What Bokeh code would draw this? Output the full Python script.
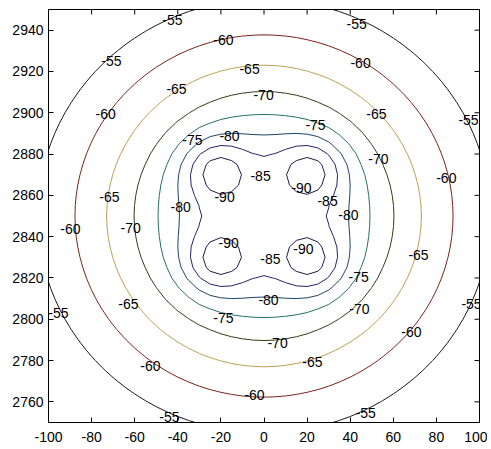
import numpy as np
from bokeh.plotting import figure
from bokeh.models import FixedTicker
from bokeh.core.properties import value
from bokeh.embed import file_html
from bokeh.resources import INLINE

# ---- data ----
x_grid = np.linspace(-100, 100, 41)
y_grid = np.linspace(2750, 2950, 41)
levels = [-90, -85, -80, -75, -70, -65, -60, -55]
level_colors = ["#1c1c4c", "#202468", "#1c4466", "#24706a", "#343c18", "#c0a050", "#7a2418", "#241414"]

# field model: log rise with distance from the centre, flat core, four local minima
centre_x = 0.0
centre_y = 2850.0
dip_x = [-23.0, 23.0, -23.0, 23.0]
dip_y = [2873.0, 2873.0, 2827.0, 2827.0]
base_level = -186.56
log_gain = 28.25
core_radius = 35.0
core_sharpness = 4.0
dip_depth = 10.5
dip_width = 10.5

x_ticks = [-100, -80, -60, -40, -20, 0, 20, 40, 60, 80, 100]
y_ticks = [2760, 2780, 2800, 2820, 2840, 2860, 2880, 2900, 2920, 2940]
x_lo, x_hi = -100, 100
y_lo, y_hi = 2750, 2950

label_text = ["-55", "-60", "-55", "-55", "-65", "-60", "-65", "-70", "-60", "-65",
              "-55", "-75", "-75", "-80", "-70", "-85", "-60", "-90", "-90", "-65",
              "-80", "-85", "-60", "-70", "-80", "-90", "-90", "-85", "-65", "-75",
              "-65", "-80", "-55", "-55", "-70", "-75", "-60", "-70", "-65", "-60",
              "-60", "-55", "-55"]
label_x = [-42.5, -18.8, 43.0, -70.8, -6.7, 44.8, -40.6, -0.2, -73.5, 52.2,
           94.9, 23.9, -33.2, -16.0, 53.1, -1.6, 84.6, -18.3, 17.4, -71.7,
           -38.7, 29.5, -89.8, -61.9, 39.2, -16.4, 18.3, 3.0, 71.7, 43.9,
           -62.9, 2.1, -95.4, 96.3, 44.3, -18.8, 68.4, 6.3, 22.5, -52.7,
           -4.4, -43.9, 47.2]
label_y = [2944.7, 2935.0, 2943.2, 2925.3, 2921.4, 2924.3, 2911.3, 2908.4, 2899.6, 2899.2,
           2896.7, 2894.3, 2886.6, 2888.5, 2877.4, 2869.6, 2868.2, 2859.4, 2863.8, 2859.4,
           2854.6, 2857.5, 2843.9, 2844.4, 2850.7, 2836.7, 2833.8, 2829.4, 2830.9, 2820.7,
           2807.6, 2809.1, 2802.8, 2807.6, 2805.2, 2800.4, 2793.6, 2788.7, 2779.1, 2777.6,
           2763.1, 2752.9, 2754.4]

# ---- field ----
X, Y = np.meshgrid(x_grid, y_grid)
R = np.sqrt((X - centre_x) ** 2 + (Y - centre_y) ** 2)
R_soft = (R ** core_sharpness + core_radius ** core_sharpness) ** (1.0 / core_sharpness)
Z = base_level + log_gain * np.log(R_soft)
for dx, dy in zip(dip_x, dip_y):
    Z = Z - dip_depth * np.exp(-((X - dx) ** 2 + (Y - dy) ** 2) / (2 * dip_width ** 2))

FONT = "Liberation Sans"

p = figure(width=487, height=447, x_range=(x_lo, x_hi), y_range=(y_lo, y_hi),
           output_backend="svg", toolbar_location=None,
           min_border_left=48, min_border_right=8, min_border_top=9, min_border_bottom=25)
p.grid.visible = False
p.outline_line_color = "black"
p.outline_line_alpha = 1.0
p.outline_line_width = 1
p.background_fill_color = "white"
p.border_fill_color = "white"

p.contour(X, Y, Z, levels, line_color=level_colors, line_width=1)

p.text(x=label_x, y=label_y, text=label_text, text_font=value(FONT),
       text_font_size="14px", text_align="center", text_baseline="middle",
       text_color="black")

# mirrored inward ticks on the top and right edges of the box
p.scatter(x=x_ticks, y=[y_hi] * len(x_ticks), marker="dash", angle=np.pi / 2,
          size=10, line_color="black", line_width=1)
p.scatter(x=[x_hi] * len(y_ticks), y=y_ticks, marker="dash",
          size=10, line_color="black", line_width=1)

for ax, ticks in ((p.xaxis[0], x_ticks), (p.yaxis[0], y_ticks)):
    ax.ticker = FixedTicker(ticks=ticks)
    ax.major_label_overrides = {t: str(t) for t in ticks}
    ax.major_tick_in = 5
    ax.major_tick_out = 0
    ax.minor_tick_in = 0
    ax.minor_tick_out = 0
    ax.axis_line_color = "black"
    ax.major_tick_line_color = "black"
    ax.major_label_text_font = FONT
    ax.major_label_text_font_size = "14px"
    ax.major_label_text_color = "black"
p.xaxis.major_label_standoff = 9
p.yaxis.major_label_standoff = 5

open("out.html", "w").write(file_html(p, INLINE))
